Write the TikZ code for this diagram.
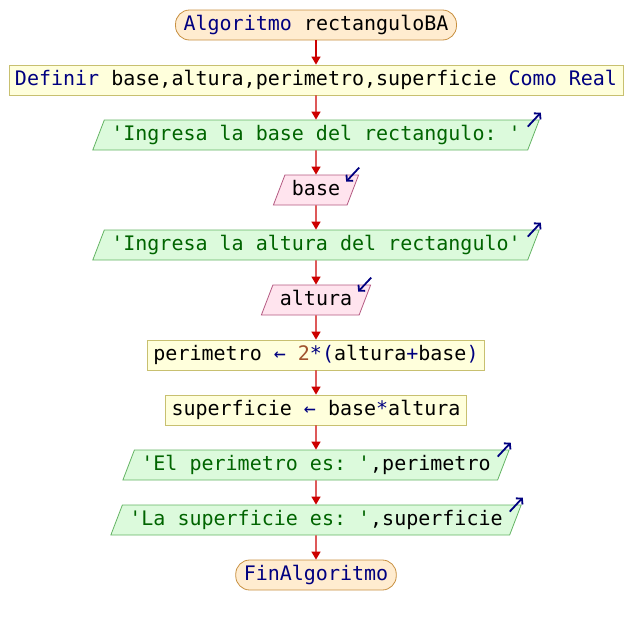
\documentclass[tikz,border=0pt]{standalone}
\usepackage{fontspec}
\usepackage{tikz}
\usetikzlibrary{shapes.geometric, arrows.meta, trees}
\usepackage{xcolor}
\setmonofont{DejaVu Sans Mono}
\definecolor{clave}{RGB}{0,0,128}
\definecolor{cadena}{RGB}{0,100,0}
\definecolor{numero}{RGB}{160,82,45}
\definecolor{flecha}{RGB}{204,0,0}
\definecolor{termfondo}{RGB}{255,236,208}
\definecolor{termborde}{RGB}{200,144,64}
\definecolor{procfondo}{RGB}{255,255,220}
\definecolor{procborde}{RGB}{200,192,112}
\definecolor{salfondo}{RGB}{220,250,220}
\definecolor{salborde}{RGB}{100,180,100}
\definecolor{entfondo}{RGB}{255,228,238}
\definecolor{entborde}{RGB}{180,90,130}
\newcommand{\kw}[1]{\textcolor{clave}{#1}}
\newcommand{\cad}[1]{\textcolor{cadena}{#1}}
\newcommand{\num}[1]{\textcolor{numero}{#1}}

\begin{document}
\begin{tikzpicture}[
  x=1pt, y=-1pt,
  level distance=55pt,
  edge from parent/.style={draw=flecha, line width=1.4pt, -{Triangle[length=8pt,width=9pt]}},
  every node/.style={font=\ttfamily\fontsize{20}{24}\selectfont,
    inner ysep=5.5pt, text height=15pt, text depth=4pt, line width=0.8pt},
  terminal/.style={draw=termborde, fill=termfondo, rounded corners=14pt, inner xsep=8pt},
  proceso/.style={draw=procborde, fill=procfondo, inner xsep=6pt},
  salida/.style={trapezium, trapezium left angle=69, trapezium right angle=111,
    draw=salborde, fill=salfondo, inner xsep=7pt},
  entrada/.style={trapezium, trapezium left angle=69, trapezium right angle=111,
    draw=entborde, fill=entfondo, inner xsep=7pt},
  icono/.style={draw=clave, line width=1.8pt, -{Straight Barb[length=4pt,width=9pt]}}
]
\useasboundingbox (0,0) rectangle (632,625);
\node[terminal] (inicio) at (316,25) {\kw{Algoritmo} rectanguloBA}
  child { node[proceso] (definir) {\kw{Definir} base,altura,perimetro,superficie \kw{Como Real}}
    child { node[salida] (sal1) {\cad{'Ingresa la base del rectangulo: '}}
      child { node[entrada] (ent1) {base}
        child { node[salida] (sal2) {\cad{'Ingresa la altura del rectangulo'}}
          child { node[entrada] (ent2) {altura}
            child { node[proceso] (asig1) {perimetro \kw{←} \num{2}\kw{*(}altura\kw{+}base\kw{)}}
              child { node[proceso] (asig2) {superficie \kw{←} base\kw{*}altura}
                child { node[salida] (sal3) {\cad{'El perimetro es: '},perimetro}
                  child { node[salida] (sal4) {\cad{'La superficie es: '},superficie}
                    child { node[terminal] (fin) {\kw{FinAlgoritmo}} }
                  }
                }
              }
            }
          }
        }
      }
    }
  };
% iconos de escritura y lectura
\foreach \s in {sal1,sal2,sal3,sal4}
  \draw[icono] ([shift={(-12,7)}]\s.top right corner) -- ([shift={(1,-7)}]\s.top right corner);
\foreach \e in {ent1,ent2}
  \draw[icono] ([shift={(0,-7)}]\e.top right corner) -- ([shift={(-13,7)}]\e.top right corner);
\end{tikzpicture}
\end{document}
